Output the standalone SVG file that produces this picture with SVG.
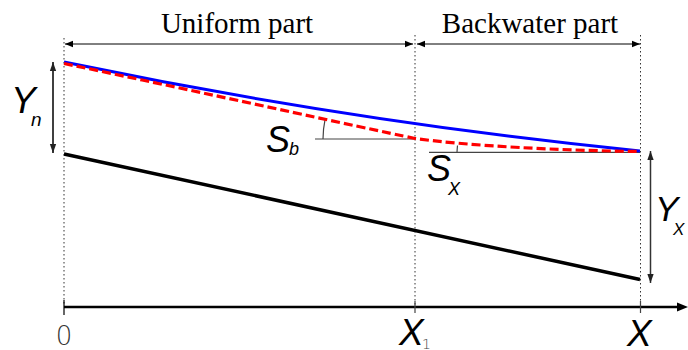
<svg xmlns="http://www.w3.org/2000/svg" width="688" height="350" viewBox="0 0 688 350">
<style>
.dot{stroke:#333;stroke-width:1;stroke-dasharray:1.5 2.5;fill:none}
.dim{stroke:#000;stroke-width:1;fill:none}
.ser{font-family:"Liberation Serif",serif;font-size:29px;fill:#000;text-anchor:middle}
.it{font-family:"Liberation Sans",Arial,sans-serif;font-style:italic;fill:#000}
.gray{stroke:#444;stroke-width:1.2;fill:none}
</style>
<defs>
<marker id="ah" viewBox="0 0 10 10" refX="10" refY="5" markerWidth="8" markerHeight="8" markerUnits="userSpaceOnUse" orient="auto-start-reverse">
<path d="M0,1 L10,5 L0,9 Z" fill="#000"/>
</marker>
<marker id="ah2" viewBox="0 0 10 10" refX="10" refY="5" markerWidth="9" markerHeight="9" markerUnits="userSpaceOnUse" orient="auto-start-reverse">
<path d="M0,1.5 L10,5 L0,8.5 Z" fill="#222"/>
</marker>
</defs>
<rect width="688" height="350" fill="#fff"/>
<g id="guides">
<line class="dot" x1="64" y1="38" x2="64" y2="305"/>
<line class="dot" x1="415" y1="35" x2="415" y2="305"/>
<line class="dot" x1="640.5" y1="35" x2="640.5" y2="305"/>
</g>
<g id="connectors">
<line class="dim" x1="65" y1="44" x2="413" y2="44" marker-start="url(#ah)" marker-end="url(#ah)"/>
<line class="dim" x1="417" y1="44" x2="640" y2="44" marker-start="url(#ah)" marker-end="url(#ah)"/>
<line x1="53" y1="62" x2="53" y2="153" stroke="#000" stroke-width="1.5" marker-start="url(#ah2)" marker-end="url(#ah2)"/>
<line x1="650.5" y1="151" x2="650.5" y2="283" stroke="#333" stroke-width="1.5" marker-start="url(#ah2)" marker-end="url(#ah2)"/>
</g>
<g id="axis">
<line x1="64" y1="307" x2="680" y2="307" stroke="#000" stroke-width="2.5"/>
<path d="M677,302.5 L688,307 L677,311.5 Z" fill="#000"/>
<line x1="64" y1="300" x2="64" y2="315" stroke="#000" stroke-width="1.2"/>
<line x1="415" y1="301" x2="415" y2="313" stroke="#444" stroke-width="1.2"/>
<line x1="640.5" y1="301" x2="640.5" y2="313" stroke="#444" stroke-width="1.2"/>
</g>
<g id="bed">
<line x1="64" y1="154" x2="640" y2="279.5" stroke="#000" stroke-width="3.5"/>
</g>
<g id="angles">
<line class="gray" x1="315" y1="139" x2="415" y2="139"/>
<path class="gray" d="M325,119.8 A92,92 0 0 0 323,139"/>
<line class="gray" x1="429" y1="152.3" x2="640" y2="152.3"/>
<path class="gray" d="M457.5,145.5 A183,183 0 0 0 457,152.3"/>
</g>
<g id="blue-profile">
<path d="M64,62 Q352,122 640,151" stroke="#0000ff" stroke-width="3" fill="none"/>
</g>
<g id="red-profile">
<path d="M64,63.5 C200,92 360,127 415,138.5 C470,146 560,150.5 640,151.5" stroke="#ff0000" stroke-width="3.2" fill="none" stroke-dasharray="9 4"/>
</g>
<g id="labels">
<text class="ser" x="237" y="33">Uniform part</text>
<text class="ser" x="530" y="33">Backwater part</text>
<text class="it" x="11" y="113" font-size="37">Y</text>
<text class="it" x="31" y="126" font-size="19">n</text>
<text class="it" x="266" y="152" font-size="36">S</text>
<text class="it" x="289" y="155" font-size="18">b</text>
<text class="it" x="427" y="181" font-size="36">S</text>
<text class="it" x="448" y="195" font-size="18">X</text>
<text class="it" x="655" y="221" font-size="35">Y</text>
<text class="it" x="673" y="235" font-size="17">X</text>
<text x="64" y="345" font-family="'DejaVu Sans',sans-serif" font-weight="300" font-size="26" fill="#333" text-anchor="middle">0</text>
<text class="it" x="399" y="345" font-size="37">X</text>
<text x="422" y="349" font-family="'DejaVu Sans',sans-serif" font-weight="300" font-size="14" fill="#444">1</text>
<text class="it" x="627" y="346" font-size="37">X</text>
</g>
</svg>
